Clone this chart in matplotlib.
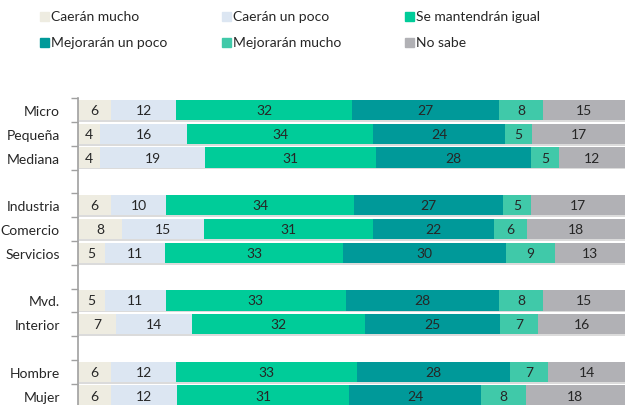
import numpy as np
import matplotlib; matplotlib.use('Agg')
import matplotlib.pyplot as plt
import matplotlib.patheffects as pe
from matplotlib.patches import Rectangle

plt.rcParams['font.family'] = ['Lato', 'DejaVu Sans']

# categories, with None for the blank row between groups
labels = ['Micro', 'Pequeña', 'Mediana', None,
          'Industria', 'Comercio', 'Servicios', None,
          'Mvd.', 'Interior', None,
          'Hombre', 'Mujer']

series = ['Caerán mucho', 'Caerán un poco', 'Se mantendrán igual',
          'Mejorarán un poco', 'Mejorarán mucho', 'No sabe']
colors = ['#EEECE1', '#DCE6F2', '#00CC99', '#009999', '#40C9A9', '#B1B1B5']

caeran_mucho    = [6, 4, 4, 6, 8, 5, 5, 7, 6, 6]
caeran_poco     = [12, 16, 19, 10, 15, 11, 11, 14, 12, 12]
mantendran      = [32, 34, 31, 34, 31, 33, 33, 32, 33, 31]
mejoraran_poco  = [27, 24, 28, 27, 22, 30, 28, 25, 28, 24]
mejoraran_mucho = [8, 5, 5, 5, 6, 9, 8, 7, 7, 8]
no_sabe         = [15, 17, 12, 17, 18, 13, 15, 16, 14, 18]

data = np.array([caeran_mucho, caeran_poco, mantendran,
                 mejoraran_poco, mejoraran_mucho, no_sabe], dtype=float)
# rounded labels don't always add to 100, bars are 100% stacked
widths = data / data.sum(axis=0) * 100

slots = [i for i, l in enumerate(labels) if l is not None]
names = [l for l in labels if l is not None]

fig = plt.figure(figsize=(6.25, 4.06), dpi=100)
slot_px = 23.8
top = 111 - slot_px/2
h = slot_px * len(labels)
ax = fig.add_axes([78/625, (406 - top - h)/406, 547/625, h/406])

shadow = [pe.SimplePatchShadow(offset=(0.8, -1.2), shadow_rgbFace='#999999', alpha=0.35),
          pe.Normal()]
left = np.zeros(len(slots))
for w, vals, col in zip(widths, data, colors):
    bars = ax.barh(slots, w, left=left, height=0.85, color=col, edgecolor='none')
    for b in bars:
        b.set_path_effects(shadow)
    for y, l, ww, v in zip(slots, left, w, vals):
        ax.text(l + ww/2, y, '%d' % v, ha='center', va='center',
                fontsize=10, color='#262626')
    left += w

ax.set_xlim(0, 100)
ax.set_ylim(len(labels) - 0.5, -0.5)
ax.set_xticks([])
ax.set_yticks(slots)
ax.set_yticklabels(names, fontsize=10, color='#262626')
ax.set_yticks(np.arange(-0.5, len(labels)), minor=True)
ax.tick_params(axis='y', which='major', length=0, pad=13)
ax.tick_params(axis='y', which='minor', length=5, color='#A0A0A0', width=1)
for s in ['top', 'right', 'bottom']:
    ax.spines[s].set_visible(False)
ax.spines['left'].set_color('#A0A0A0')
ax.spines['left'].set_linewidth(1.2)

# legend, 2 rows x 3 columns
xs = [40, 222, 405]
ys = [17, 43]
for i, (name, col) in enumerate(zip(series, colors)):
    x = xs[i % 3]
    y = ys[i // 3]
    fig.patches.append(Rectangle((x/625, 1 - (y + 4.5)/406), 9/625, 9/406,
                                 transform=fig.transFigure, color=col))
    fig.text((x + 11)/625, 1 - y/406, name, ha='left', va='center',
             fontsize=10, color='#262626')

plt.savefig('out.png', dpi=100)
